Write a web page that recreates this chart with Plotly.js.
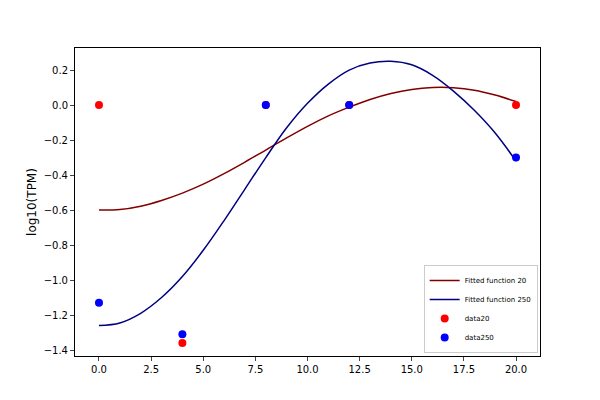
<!DOCTYPE html>
<html>
<head>
<meta charset="utf-8">
<script src="https://cdn.plot.ly/plotly-3.0.1.min.js"></script>
<style>body{margin:0}</style>
</head>
<body>
<div id="chart" style="width:600px;height:400px;"></div>
<script>
var fitX = [0, 1, 2, 3, 4, 5, 6, 7, 8, 9, 10, 11, 12, 13, 14, 15, 16, 17, 18, 19, 20];
var fit20 = [-0.60, -0.597, -0.578, -0.545, -0.503, -0.452, -0.392, -0.326, -0.257, -0.188, -0.122,
             -0.062, -0.012, 0.032, 0.066, 0.089, 0.100, 0.099, 0.085, 0.057, 0.02];
var fit250 = [-1.26, -1.245, -1.19, -1.10, -0.98, -0.83, -0.66, -0.48, -0.30, -0.13, 0.01,
              0.12, 0.20, 0.24, 0.25, 0.23, 0.17, 0.08, -0.03, -0.16, -0.32];
var dataX = [0, 4, 8, 12, 20];
var data20 = [0, -1.36, 0, 0, 0];
var data250 = [-1.13, -1.31, 0, 0, -0.30];

var traces = [
    {x: fitX, y: fit20, mode: 'lines', line: {color: '#800000', width: 1.5, shape: 'spline'}, name: 'Fitted function 20'},
    {x: fitX, y: fit250, mode: 'lines', line: {color: '#000080', width: 1.5, shape: 'spline'}, name: 'Fitted function 250'},
    {x: dataX, y: data20, mode: 'markers', marker: {color: 'red', size: 8}, name: 'data20'},
    {x: dataX, y: data250, mode: 'markers', marker: {color: 'blue', size: 8}, name: 'data250'}
];

var layout = {
    width: 600, height: 400,
    margin: {l: 75, r: 60, t: 48, b: 44},
    paper_bgcolor: 'white', plot_bgcolor: 'white',
    font: {family: 'DejaVu Sans', size: 10, color: 'black'},
    xaxis: {range: [-1.15, 21.15], tickvals: [0, 2.5, 5, 7.5, 10, 12.5, 15, 17.5, 20],
            ticktext: ['0.0', '2.5', '5.0', '7.5', '10.0', '12.5', '15.0', '17.5', '20.0'],
            showgrid: false, zeroline: false, showline: true, mirror: true, linecolor: 'black',
            ticks: 'outside', ticklen: 4},
    yaxis: {range: [-1.434, 0.326], dtick: 0.2, tickformat: '.1f',
            showgrid: false, zeroline: false, showline: true, mirror: true, linecolor: 'black',
            ticks: 'outside', ticklen: 4, title: {text: 'log10(TPM)', font: {size: 12}, standoff: 4}},
    legend: {x: 0.995, y: 0.01, xanchor: 'right', yanchor: 'bottom', font: {size: 7},
             bordercolor: '#cccccc', borderwidth: 1, bgcolor: 'white', tracegroupgap: 0,
             itemwidth: 30},
    showlegend: true
};

Plotly.newPlot('chart', traces, layout, {displayModeBar: false});
</script>
</body>
</html>
